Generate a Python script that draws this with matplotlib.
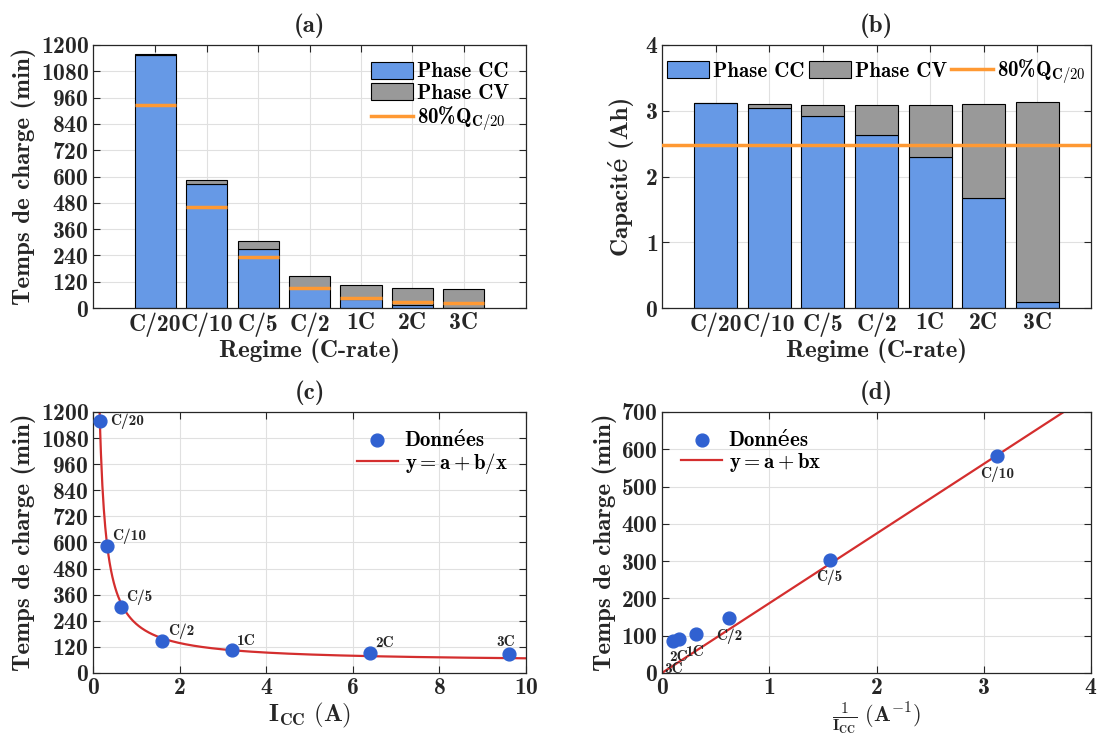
import numpy as np
import matplotlib.pyplot as plt
from matplotlib.patches import Patch
from matplotlib.lines import Line2D

plt.rcParams['font.family'] = ['cmb10', 'DejaVu Serif']
plt.rcParams['mathtext.fontset'] = 'cm'
plt.rcParams['axes.unicode_minus'] = False
plt.rcParams['axes.formatter.use_mathtext'] = True

# Data
regimes = ['C/20', 'C/10', 'C/5', 'C/2', '1C', '2C', '3C']
current = [0.16, 0.32, 0.64, 1.6, 3.2, 6.4, 9.6]          # A
t_cc = [1156, 566, 271, 92, 42, 14, 1]                   # min
t_total = [1158, 582, 304, 148, 104, 92, 86]             # min
t_80 = [925, 462, 232, 93, 47, 26, 21]                   # min to reach 80% Q_C/20
q_cc = [3.11, 3.04, 2.92, 2.63, 2.29, 1.68, 0.09]        # Ah
q_total = [3.11, 3.10, 3.09, 3.09, 3.08, 3.10, 3.13]     # Ah
q_80 = 2.48

blue = (0.4, 0.6, 0.9)
grey = (0.6, 0.6, 0.6)
orange = (1.0, 0.6, 0.2)
dot = (0.19, 0.38, 0.82)
red = (0.83, 0.18, 0.18)
dark = (0.15, 0.15, 0.15)

TICK = 17
LAB = 18
LEG = 15

fig = plt.figure(figsize=(10.97, 7.37), dpi=100)
ax_a = fig.add_axes([0.0848, 0.582, 0.3947, 0.357])
ax_b = fig.add_axes([0.6035, 0.582, 0.391, 0.357])
ax_c = fig.add_axes([0.0848, 0.087, 0.3947, 0.354])
ax_d = fig.add_axes([0.6035, 0.087, 0.391, 0.354])


def style(ax):
    ax.set_axisbelow(True)
    ax.grid(True, color=(0.88, 0.88, 0.88), lw=0.8)
    ax.tick_params(direction='in', top=True, right=True, length=5,
                   labelsize=TICK, colors=dark, width=0.8, pad=3)
    for s in ax.spines.values():
        s.set_color(dark)
        s.set_linewidth(0.9)


x = np.arange(1, len(regimes) + 1)
t_cv = np.array(t_total) - np.array(t_cc)
q_cv = np.array(q_total) - np.array(q_cc)

# (a) charge time
ax_a.bar(x, t_cc, 0.8, color=blue, edgecolor='black', lw=0.8)
ax_a.bar(x, t_cv, 0.8, bottom=t_cc, color=grey, edgecolor='black', lw=0.8)
ax_a.hlines(t_80, x - 0.4, x + 0.4, color=orange, lw=2.5, zorder=3)
ax_a.set_xlim(-0.21, 8.21)
ax_a.set_ylim(0, 1200)
ax_a.set_yticks(np.arange(0, 1201, 120))
ax_a.set_xticks(x)
ax_a.set_xticklabels(regimes)
ax_a.set_xlabel('Regime (C-rate)', fontsize=LAB, color=dark, labelpad=1)
ax_a.set_ylabel('Temps de charge (min)', fontsize=LAB, color=dark, labelpad=3)
ax_a.set_title('(a)', fontsize=LAB, color=dark, pad=9)
style(ax_a)

handles = [Patch(facecolor=blue, edgecolor='black', lw=0.8),
           Patch(facecolor=grey, edgecolor='black', lw=0.8),
           Line2D([], [], color=orange, lw=2.5)]
labels = ['Phase CC', 'Phase CV', r'80%$\mathbf{Q_{C/20}}$']
ax_a.legend(handles, labels, loc='upper right', frameon=False, fontsize=LEG,
            handlelength=2.0, handleheight=0.9, borderaxespad=0.4,
            labelspacing=0.08, handletextpad=0.2)

# (b) capacity
ax_b.bar(x, q_cc, 0.8, color=blue, edgecolor='black', lw=0.8)
ax_b.bar(x, q_cv, 0.8, bottom=q_cc, color=grey, edgecolor='black', lw=0.8)
ax_b.axhline(q_80, color=orange, lw=2.5, zorder=3)
ax_b.set_xlim(0, 8)
ax_b.set_ylim(0, 4)
ax_b.set_yticks(np.arange(0, 5, 1))
ax_b.set_xticks(x)
ax_b.set_xticklabels(regimes)
ax_b.set_xlabel('Regime (C-rate)', fontsize=LAB, color=dark, labelpad=1)
ax_b.set_ylabel('Capacité (Ah)', fontsize=LAB, color=dark, labelpad=8)
ax_b.set_title('(b)', fontsize=LAB, color=dark, pad=9)
style(ax_b)
ax_b.legend(handles, labels, loc='upper center', ncol=3, frameon=False,
            fontsize=LEG, handlelength=2.0, handleheight=0.9,
            borderaxespad=0.2, columnspacing=0.2, handletextpad=0.2)

# (c) time vs current, fit y = a + b/x
inv = 1 / np.array(current)
b_c, a_c = np.polyfit(inv, t_total, 1)
xc = np.linspace(0.1, 10, 600)
ax_c.scatter(current, t_total, s=85, color=dot, zorder=3, label='Données')
ax_c.plot(xc, a_c + b_c / xc, color=red, lw=1.6, label=r'$\mathbf{y = a + b/x}$')
offs_c = {'C/20': (7, 0, 'left'), '3C': (-2, 9, 'center')}
for r, xi, yi in zip(regimes, current, t_total):
    dx, dy, ha = offs_c.get(r, (4, 7, 'left'))
    ax_c.annotate(r, (xi, yi), xytext=(dx, dy), textcoords='offset points',
                  ha=ha, va='center', fontsize=11, color=dark)
ax_c.set_xlim(0, 10)
ax_c.set_ylim(0, 1200)
ax_c.set_yticks(np.arange(0, 1201, 120))
ax_c.set_xticks(np.arange(0, 11, 2))
ax_c.set_xlabel(r'$\mathbf{I_{CC}\ (A)}$', fontsize=LAB, color=dark, labelpad=1)
ax_c.set_ylabel('Temps de charge (min)', fontsize=LAB, color=dark, labelpad=3)
ax_c.set_title('(c)', fontsize=LAB, color=dark, pad=9)
style(ax_c)
ax_c.legend(loc='upper right', frameon=False, fontsize=LEG, handlelength=2.0,
            labelspacing=0.05, borderaxespad=0.5, handletextpad=0.3)

# (d) time vs 1/current, linear fit through the origin
b_d = np.sum(inv * np.array(t_total)) / np.sum(inv * inv)
xd = np.linspace(0, 4, 50)
ax_d.scatter(inv, t_total, s=85, color=dot, zorder=3, label='Données')
ax_d.plot(xd, b_d * xd, color=red, lw=1.6, label=r'$\mathbf{y = a + bx}$')
offs_d = {'3C': (0, -20), '2C': (0, -13)}
for r, xi, yi in zip(regimes, inv, t_total):
    dx, dy = offs_d.get(r, (0, -13))
    ax_d.annotate(r, (xi, yi), xytext=(dx, dy), textcoords='offset points',
                  ha='center', va='center', fontsize=11, color=dark)
ax_d.set_xlim(0, 4)
ax_d.set_ylim(0, 700)
ax_d.set_yticks(np.arange(0, 701, 100))
ax_d.set_xticks(np.arange(0, 5, 1))
ax_d.set_xlabel(r'$\mathbf{\frac{1}{I_{CC}}\ (A^{-1})}$', fontsize=16,
                color=dark, labelpad=1)
ax_d.set_ylabel('Temps de charge (min)', fontsize=LAB, color=dark, labelpad=3)
ax_d.set_title('(d)', fontsize=LAB, color=dark, pad=9)
style(ax_d)
ax_d.legend(loc='upper left', frameon=False, fontsize=LEG, handlelength=2.0,
            labelspacing=0.05, borderaxespad=0.5, handletextpad=0.3)

fig.savefig('out.png', dpi=100)
